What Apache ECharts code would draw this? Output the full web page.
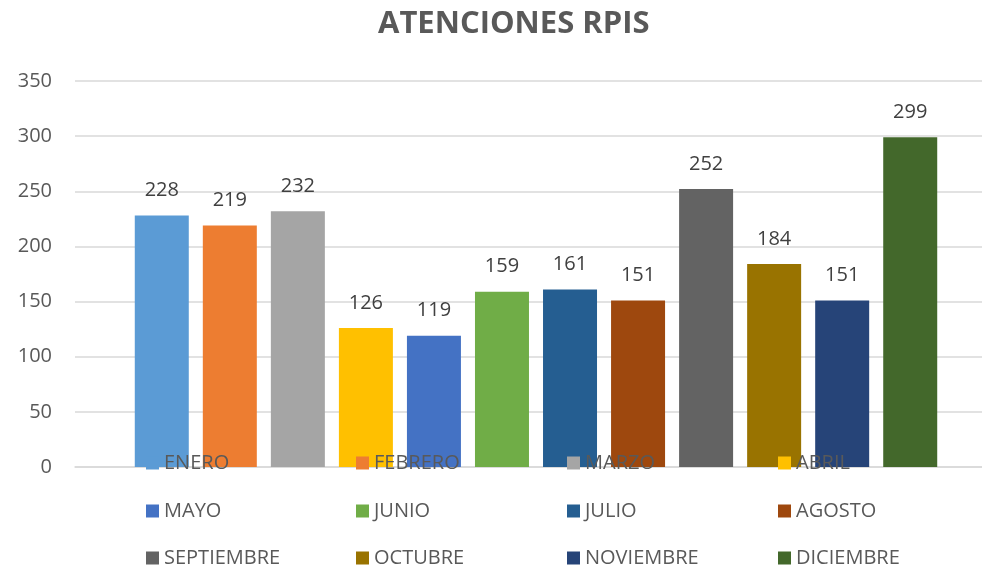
<!DOCTYPE html>
<html>
<head>
<meta charset="utf-8">
<script src="https://cdn.jsdelivr.net/npm/echarts@6/dist/echarts.min.js"></script>
<style>
  html, body { margin: 0; padding: 0; background: #fff; }
  #chart { width: 982px; height: 568px; }
</style>
</head>
<body>
<div id="chart"></div>
<script>
// meses y atenciones
var meses = ['ENERO', 'FEBRERO', 'MARZO', 'ABRIL', 'MAYO', 'JUNIO', 'JULIO', 'AGOSTO', 'SEPTIEMBRE', 'OCTUBRE', 'NOVIEMBRE', 'DICIEMBRE'];
var atenciones = [228, 219, 232, 126, 119, 159, 161, 151, 252, 184, 151, 299];
var colores = ['#5B9BD5', '#ED7D31', '#A5A5A5', '#FFC000', '#4472C4', '#70AD47', '#255E91', '#9E480E', '#636363', '#997300', '#264478', '#43682B'];
var categorias = [''];

var chart = echarts.init(document.getElementById('chart'));

var series = meses.map(function (mes, i) {
  return {
    name: mes,
    type: 'bar',
    barWidth: 54,
    barGap: '26%',
    itemStyle: { color: colores[i] },
    label: {
      show: true,
      position: 'top',
      distance: 15,
      fontFamily: 'Open Sans',
      fontSize: 20,
      color: '#404040'
    },
    data: [atenciones[i]]
  };
});

// leyenda: una por mes, en 3 filas de 4 columnas
var filasTop = [453, 501, 548];
var columnasLeft = [146, 356, 567, 778];
var legends = meses.map(function (mes, i) {
  return {
    data: [mes],
    left: columnasLeft[i % 4],
    top: filasTop[Math.floor(i / 4)],
    padding: 0,
    itemWidth: 13,
    itemHeight: 13,
    icon: 'rect',
    selectedMode: false,
    textStyle: {
      fontFamily: 'Open Sans',
      fontSize: 20,
      color: '#595959'
    }
  };
});

var option = {
  animation: false,
  title: {
    text: 'ATENCIONES RPIS',
    left: 378,
    top: 9,
    padding: 0,
    textStyle: {
      fontFamily: 'Open Sans',
      fontWeight: 'bold',
      fontSize: 31,
      color: '#595959'
    }
  },
  legend: legends,
  grid: { left: 75, width: 922, top: 81, bottom: 101, outerBoundsMode: 'none', containLabel: false },
  xAxis: {
    type: 'category',
    data: categorias,
    axisLine: { lineStyle: { color: '#D9D9D9', width: 1.5 } },
    axisTick: { show: false },
    axisLabel: { show: false }
  },
  yAxis: {
    type: 'value',
    min: 0,
    max: 350,
    interval: 50,
    axisLine: { show: false },
    axisTick: { show: false },
    axisLabel: {
      fontFamily: 'Open Sans',
      fontSize: 20,
      color: '#595959',
      margin: 23
    },
    splitLine: { lineStyle: { color: '#D9D9D9', width: 1.5 } }
  },
  series: series
};

chart.setOption(option);
window.onresize = chart.resize;
</script>
</body>
</html>
